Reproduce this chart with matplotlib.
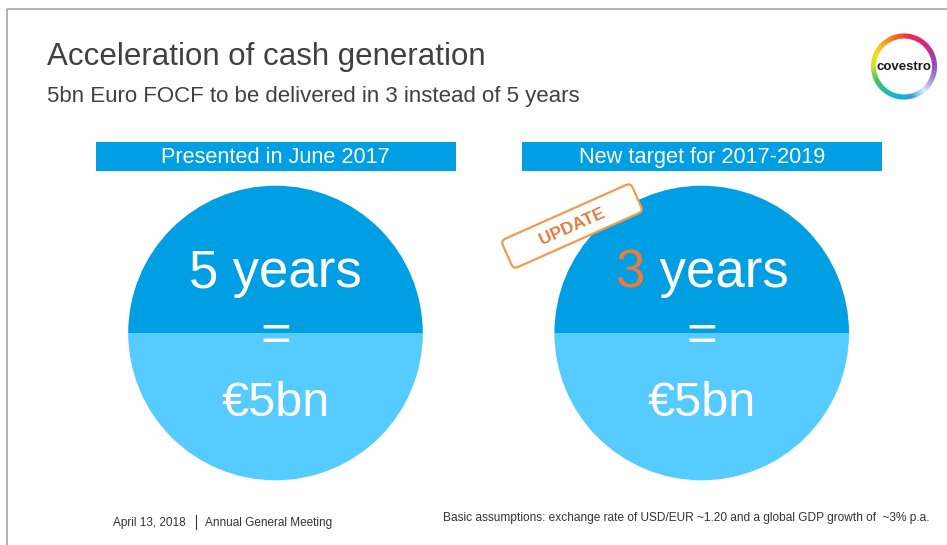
import numpy as np
import matplotlib
matplotlib.use("Agg")
import matplotlib.pyplot as plt
from matplotlib.patches import Wedge, Rectangle, FancyBboxPatch
from matplotlib.transforms import Affine2D
from matplotlib.colors import LinearSegmentedColormap

plt.rcParams["font.family"] = ["Liberation Sans", "DejaVu Sans"]

# slide content
title = "Acceleration of cash generation"
subtitle = "5bn Euro FOCF to be delivered in 3 instead of 5 years"
panel_headers = ["Presented in June 2017", "New target for 2017-2019"]
years = [5, 3]
cash_bn = [5, 5]
highlight = [False, True]
stamp_text = "UPDATE"
footer_left = ["April 13, 2018", "Annual General Meeting"]
footer_right = "Basic assumptions: exchange rate of USD/EUR ~1.20 and a global GDP growth of  ~3% p.a."

BLUE = "#009fe3"
LIGHT = "#56cbff"
ORANGE = "#f07a3c"
GREY = "#404040"

fig = plt.figure(figsize=(9.47, 5.45), dpi=100)
ax = fig.add_axes([0, 0, 1, 1])
ax.set_xlim(0, 947)
ax.set_ylim(545, 0)
ax.set_aspect("equal")
ax.axis("off")
renderer = fig.canvas.get_renderer()

# slide border
ax.plot([7, 947], [8.5, 8.5], color="#a6a6a6", lw=1.2, solid_capstyle="butt")
ax.plot([7, 7], [8.5, 545], color="#a6a6a6", lw=1.2, solid_capstyle="butt")

ax.text(47, 65, title, fontsize=22.5, color=GREY, va="baseline")
ax.text(47, 102, subtitle, fontsize=16, color=GREY, va="baseline")

centers = [275.5, 701.7]
cy, r = 333, 147.3
for i, cx in enumerate(centers):
    # header bar
    ax.add_patch(Rectangle((cx - 180, 142.3), 360, 28.4, color=BLUE, lw=0))
    ax.text(cx, 163, panel_headers[i], fontsize=15.7, color="white",
            ha="center", va="baseline")
    # split circle
    ax.add_patch(Wedge((cx, cy), r, 0, 180, color=LIGHT, lw=0))
    ax.add_patch(Wedge((cx, cy), r, 180, 360, color=BLUE, lw=0))
    # number and "years" as two pieces, centred together (1 data unit = 1 px)
    num = ax.text(cx, 287.5, str(years[i]), fontsize=38, va="baseline", ha="left",
                  color=ORANGE if highlight[i] else "white")
    rest = ax.annotate(" years", xy=(1, 0), xycoords=num, ha="left", va="bottom",
                       fontsize=38, color="white")
    total = (num.get_window_extent(renderer).width
             + rest.get_window_extent(renderer).width)
    num.set_x(cx - total / 2)
    ax.text(cx, 337, "=", fontsize=38, color="white", ha="center", va="center")
    ax.text(cx, 416, f"\u20ac{cash_bn[i]}bn", fontsize=35, color="white",
            ha="center", va="baseline")

# update stamp
scx, scy = 572, 226
rot = Affine2D().rotate_deg_around(scx, scy, -24) + ax.transData
ax.add_patch(FancyBboxPatch((scx - 71, scy - 15.5), 142, 31,
                            boxstyle="round,pad=0,rounding_size=5",
                            fc="white", ec="#f39a4c", lw=1.6, transform=rot,
                            zorder=5))
ax.text(scx, scy + 1, stamp_text, fontsize=12.5, fontweight="bold", color="#e07b3a",
        rotation=24, ha="center", va="center", rotation_mode="anchor", zorder=6)

# logo ring
anchors = ["#8a4fc4", "#b8309a", "#e0207a", "#f0284a", "#f7601c", "#f9a020",
           "#f4e11c", "#c8e030", "#40c060", "#20c0a0", "#10b0e0", "#2aa0e6",
           "#d0ecfa", "#a890d8", "#8a4fc4"]
cmap = LinearSegmentedColormap.from_list("ring", anchors)
lx, ly, lr = 904, 66.5, 33
step = 3
for a in range(0, 360, step):
    # data y is inverted, so flip the angle to keep the visual order
    ax.add_patch(Wedge((lx, ly), lr, -(a + step) - 0.5, -a + 0.5, width=5,
                       color=cmap(a / 360), lw=0))
ax.text(lx, ly + 1, "covestro", fontsize=9.5, fontweight="bold", color="#1a1a1a",
        ha="center", va="center")

# footer
ax.text(113, 526, footer_left[0], fontsize=8.5, color="#333333", va="baseline")
ax.plot([196, 196], [515, 529], color="#333333", lw=0.8)
ax.text(205, 526, footer_left[1], fontsize=8.5, color="#333333", va="baseline")
ax.text(443, 521, footer_right, fontsize=8.6, color="#333333", va="baseline")

fig.savefig("out.png", dpi=100)
